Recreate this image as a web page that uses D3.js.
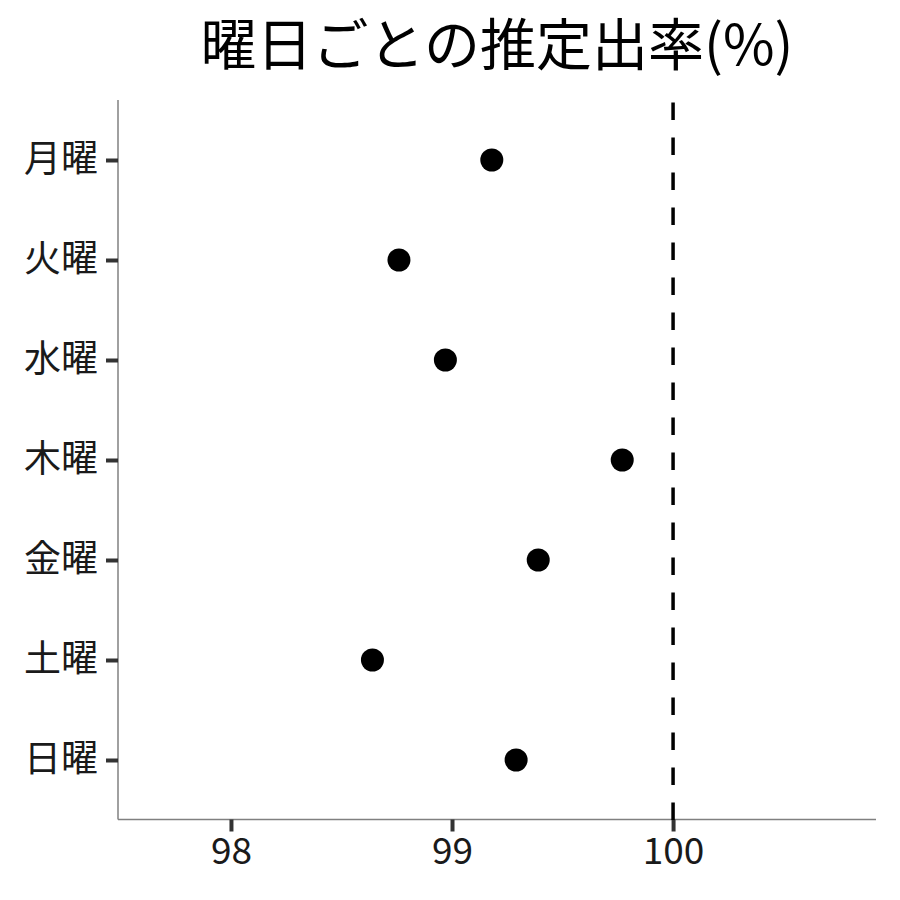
<!DOCTYPE html>
<html><head><meta charset="utf-8">
<script src="https://cdn.jsdelivr.net/npm/d3@7"></script>
<style>body{margin:0;background:#fff}svg{display:block}text{font-family:"Noto Sans CJK JP","Noto Sans",sans-serif}</style>
</head><body><svg id="c" width="900" height="900"></svg>
<script>
const days = ["月曜","火曜","水曜","木曜","金曜","土曜","日曜"];
const rates = [99.18, 98.76, 98.97, 99.77, 99.39, 98.64, 99.29];
const xTicks = [98, 99, 100];
const refValue = 100;
const title = "曜日ごとの推定出率(%)";

const svg = d3.select("#c");
const L = 118, R = 876, T = 100, B = 820;
const x = d3.scaleLinear().domain([97.489, 100.918]).range([L, R]);
const y = d3.scalePoint().domain(days).range([T, B]).padding(0.6);

svg.append("text").attr("x", 497).attr("y", 65).attr("text-anchor", "middle")
  .attr("font-size", 56).attr("fill", "#000").text(title);

// axes
const xa = svg.append("g").attr("transform", `translate(0,${B - 0.5})`)
  .call(d3.axisBottom(x).tickValues(xTicks).tickSize(12).tickPadding(6).tickFormat(d3.format("d")));
xa.select(".domain").attr("stroke", "#808080").attr("stroke-width", 1.5).attr("d", `M${L},0H${R}`);
xa.selectAll(".tick line").attr("stroke", "#333").attr("stroke-width", 4);
xa.selectAll(".tick text").attr("font-size", 37).attr("fill", "#1a1a1a").attr("font-family", '"Noto Sans CJK JP","Noto Sans",sans-serif');

const ya = svg.append("g").attr("transform", `translate(${L},0)`)
  .call(d3.axisLeft(y).tickSize(12).tickPadding(8));
ya.select(".domain").attr("stroke", "#808080").attr("stroke-width", 1.5).attr("d", `M0,${T}V${B - 0.5}`);
ya.selectAll(".tick line").attr("stroke", "#333").attr("stroke-width", 4);
ya.selectAll(".tick text").attr("font-size", 37).attr("fill", "#1a1a1a").attr("font-family", '"Noto Sans CJK JP","Noto Sans",sans-serif');

// reference line
svg.append("line").attr("x1", x(refValue)).attr("x2", x(refValue)).attr("y1", B).attr("y2", T)
  .attr("stroke", "#000").attr("stroke-width", 3.5).attr("stroke-dasharray", "17.5,17.5");

// points
svg.append("g").selectAll("circle").data(days).join("circle")
  .attr("cx", (d, i) => x(rates[i])).attr("cy", d => y(d)).attr("r", 11.5).attr("fill", "#000");
</script></body></html>
